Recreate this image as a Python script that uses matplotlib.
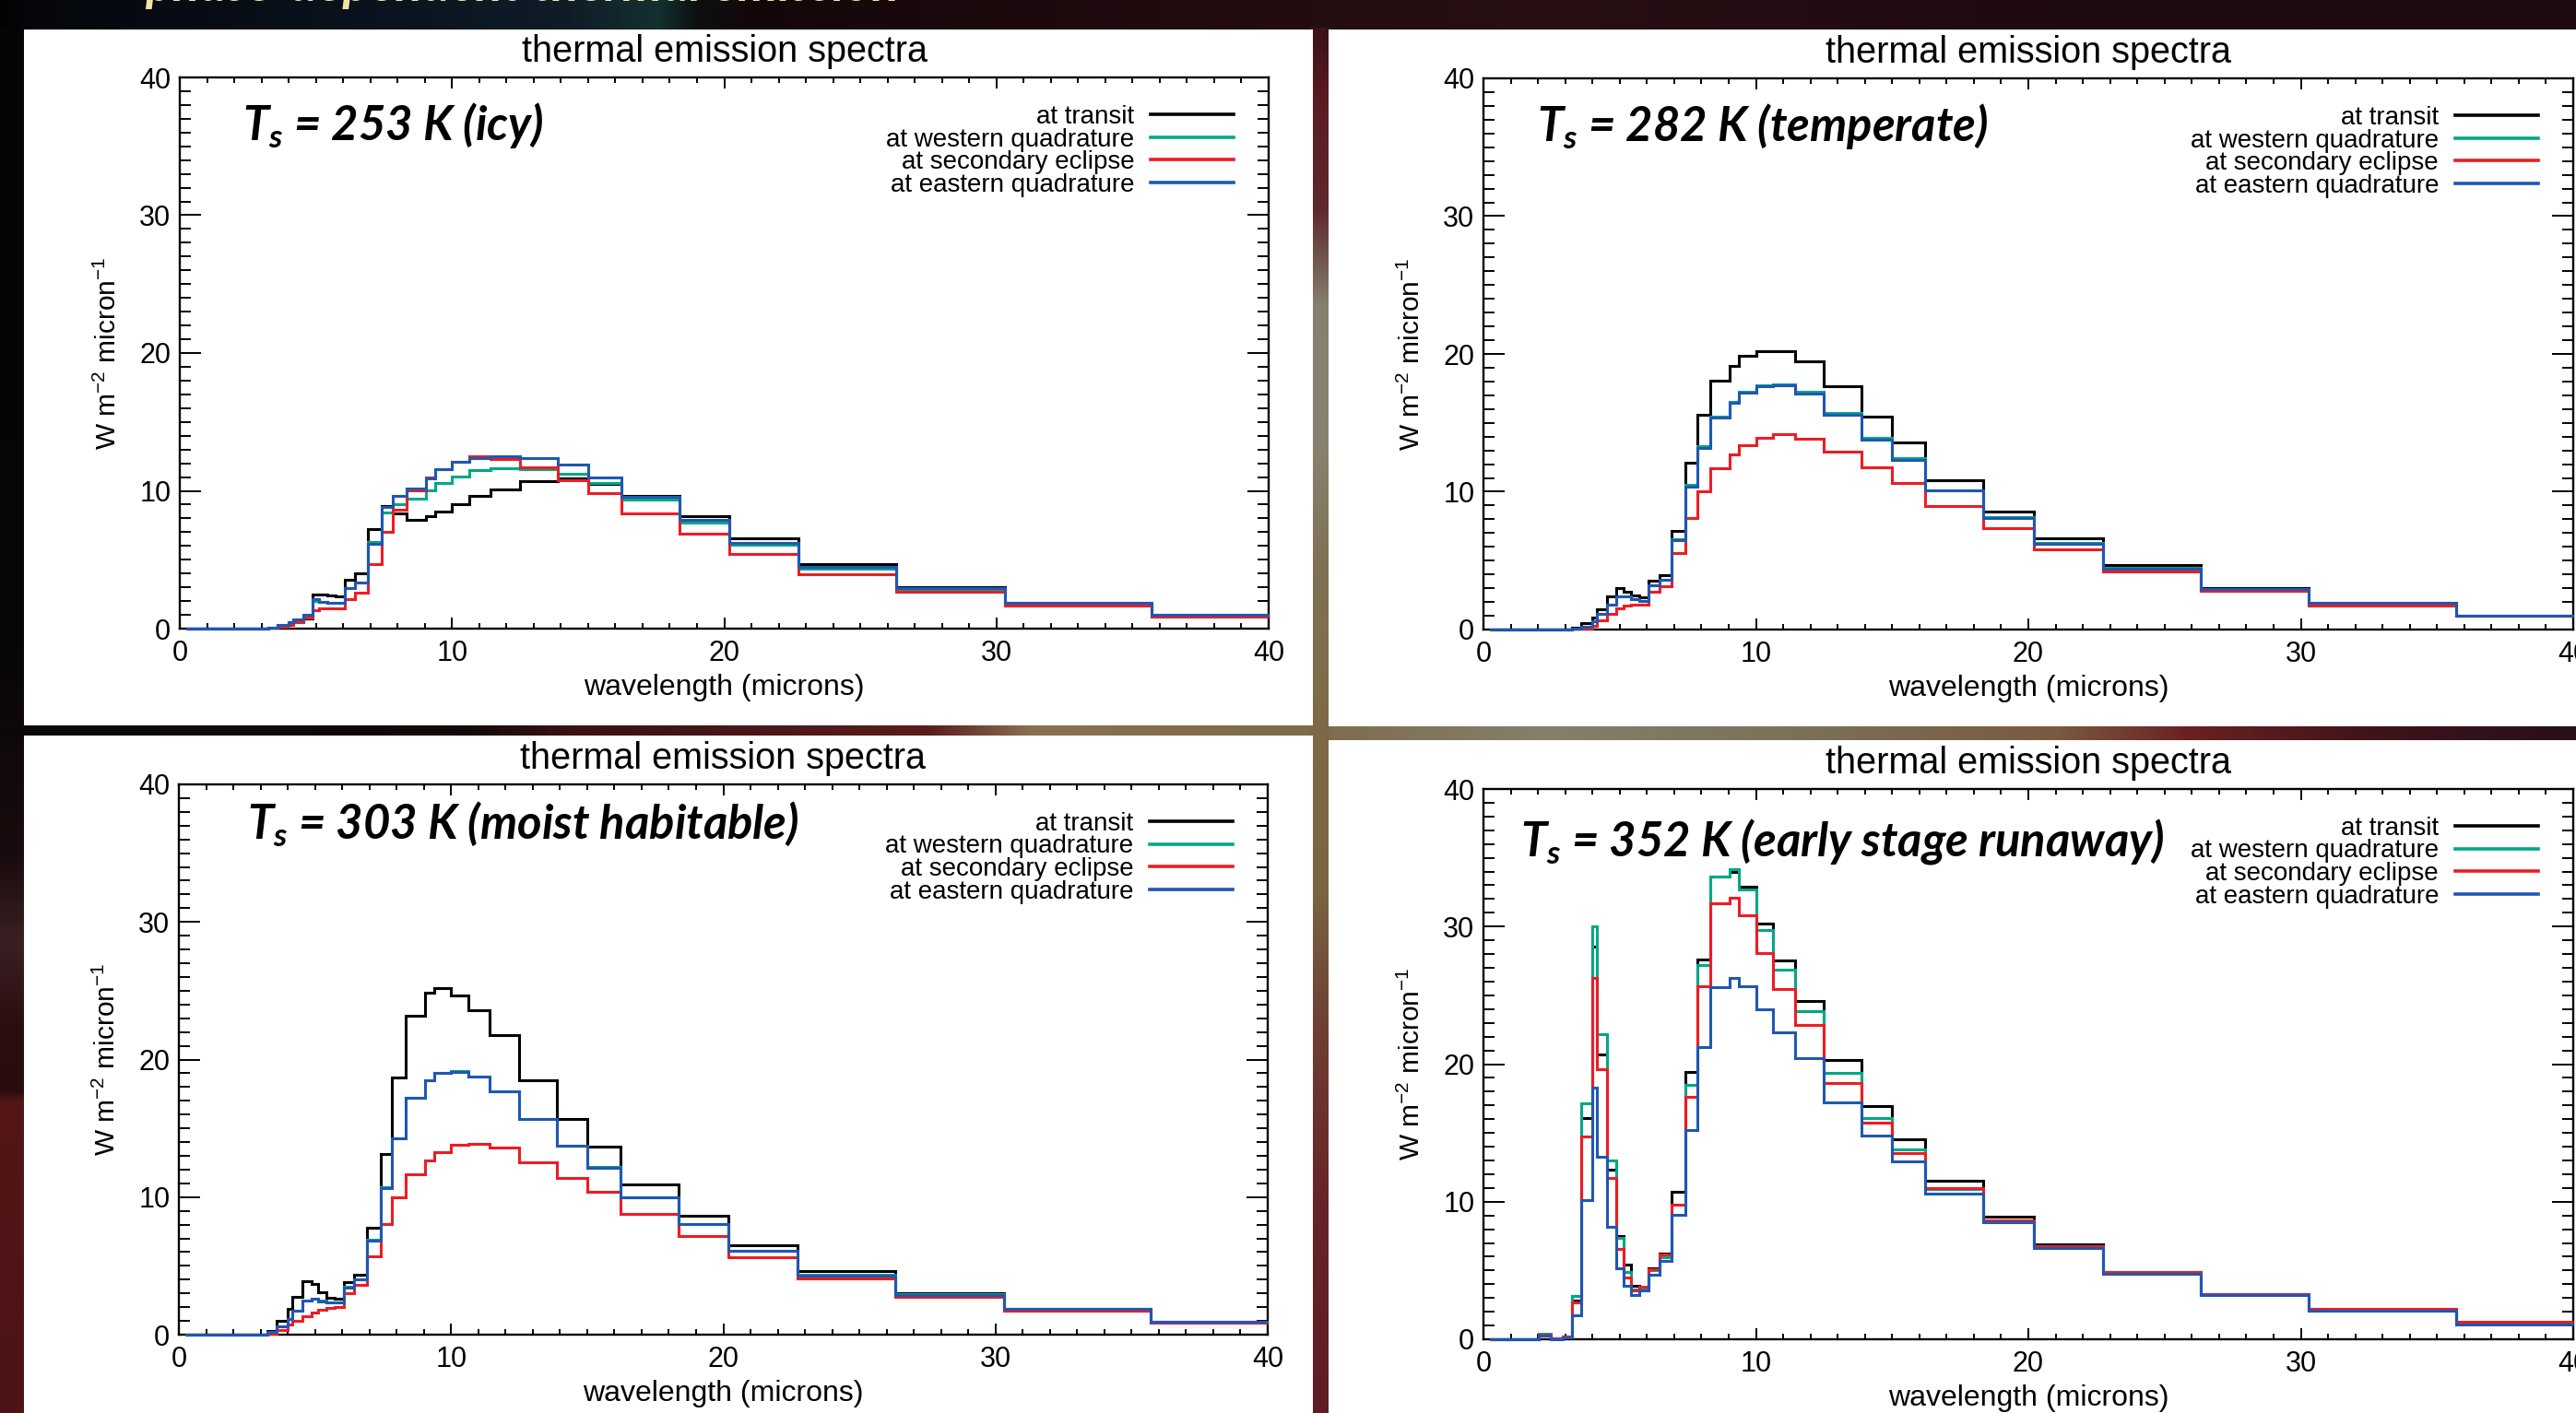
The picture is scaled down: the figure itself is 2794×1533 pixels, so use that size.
import numpy as np
import matplotlib
matplotlib.use("Agg")
import matplotlib.pyplot as plt
from matplotlib.colors import to_rgb
from matplotlib.patches import Rectangle
from matplotlib.ticker import MultipleLocator

# --- canvas ---
W_PX, H_PX = 2794, 1533
DPI = 100

# --- data: spectral band edges (microns) and band-averaged emission (W m-2 micron-1) ---
edges_um = [0.24, 2.02, 2.20, 2.48, 2.66, 2.92, 3.24, 3.58, 4.01, 4.17, 4.55, 4.88,
            5.13, 5.41, 5.71, 6.06, 6.45, 6.90, 7.41, 7.84, 8.33, 9.03, 9.39, 10.0,
            10.64, 11.43, 12.5, 13.89, 14.99, 16.21, 18.35, 20.20, 22.73, 26.32,
            30.30, 35.71, 40.0]

series_labels = ['at transit', 'at western quadrature', 'at secondary eclipse', 'at eastern quadrature']
series_colors = ['#000000', '#00a886', '#ed1c24', '#1f57b3']

# Ts = 253 K (icy)
icy_transit = [0, 0, 0, 0, 0, 0, 0.1, 0.2, 0.4, 0.6, 0.75, 2.5, 2.45, 2.4, 2.32, 3.55, 4.0, 7.23,
               8.9, 8.37, 7.86, 8.19, 8.5, 9.04, 9.6, 10.13, 10.69, 10.92, 10.5, 9.62, 8.15,
               6.55, 4.7, 3.0, 1.9, 1.0]
icy_west = [0, 0, 0, 0, 0, 0, 0.1, 0.25, 0.45, 0.7, 1.0, 2.0, 1.95, 1.9, 1.85, 2.95, 3.35, 6.29,
            8.46, 9.02, 9.42, 10.02, 10.54, 11.05, 11.5, 11.65, 11.6, 11.27, 10.54, 9.35, 7.7,
            6.1, 4.35, 2.9, 1.85, 1.0]
icy_eclipse = [0, 0, 0, 0, 0, 0, 0.05, 0.15, 0.26, 0.5, 0.8, 1.32, 1.5, 1.5, 1.5, 2.16, 2.6, 4.69,
               7.03, 8.64, 10.02, 10.98, 11.54, 12.1, 12.48, 12.32, 11.7, 10.76, 9.82, 8.37, 6.92,
               5.4, 3.95, 2.7, 1.7, 0.9]
icy_east = [0, 0, 0, 0, 0, 0, 0.1, 0.25, 0.45, 0.7, 1.0, 2.15, 1.95, 1.9, 1.85, 2.95, 3.35, 6.18,
            8.86, 9.64, 10.2, 10.9, 11.6, 12.1, 12.39, 12.5, 12.4, 11.88, 10.98, 9.58, 7.86,
            6.2, 4.45, 2.95, 1.9, 1.0]

# Ts = 282 K (temperate)
temp_transit = [0, 0, 0, 0, 0, 0, 0.16, 0.49, 0.87, 1.49, 2.43, 2.99, 2.76, 2.45, 2.34, 3.54, 3.95,
                7.13, 12.08, 15.6, 18.04, 19.15, 19.84, 20.22, 20.18, 19.49, 17.66, 15.43, 13.58,
                10.84, 8.58, 6.59, 4.71, 3.04, 1.95, 1.02]
temp_west = [0, 0, 0, 0, 0, 0, 0.1, 0.2, 0.6, 1.16, 1.83, 2.43, 2.43, 2.21, 2.05, 3.23, 3.61,
             6.58, 10.52, 13.3, 15.47, 16.55, 17.25, 17.72, 17.81, 17.26, 15.72, 13.91, 12.42,
             10.12, 8.14, 6.27, 4.46, 2.95, 1.92, 1.02]
temp_eclipse = [0, 0, 0, 0, 0, 0, 0.05, 0.1, 0.27, 0.67, 1.16, 1.56, 1.76, 1.83, 1.83, 2.76, 3.17,
                5.57, 8.12, 10.03, 11.71, 12.71, 13.38, 13.91, 14.2, 13.87, 12.93, 11.75, 10.63,
                8.96, 7.34, 5.8, 4.2, 2.8, 1.74, 1.0]
temp_east = [0, 0, 0, 0, 0, 0, 0.1, 0.2, 0.6, 1.16, 1.83, 2.43, 2.4, 2.2, 2.05, 3.2, 3.6,
             6.5, 10.34, 13.15, 15.36, 16.48, 17.17, 17.64, 17.72, 17.15, 15.6, 13.8, 12.31,
             10.08, 8.07, 6.25, 4.44, 2.94, 1.92, 1.02]

# Ts = 303 K (moist habitable)
moist_transit = [0, 0, 0, 0, 0, 0, 0.3, 1.0, 1.88, 2.77, 3.89, 3.71, 3.11, 2.71, 2.6, 3.84, 4.34,
                 7.75, 13.16, 18.7, 23.2, 24.84, 25.17, 24.66, 23.59, 21.8, 18.47, 15.68, 13.65,
                 10.92, 8.65, 6.53, 4.65, 3.0, 1.88, 0.96]
moist_west = [0, 0, 0, 0, 0, 0, 0.2, 0.58, 1.16, 1.77, 2.5, 2.64, 2.46, 2.35, 2.35, 3.46, 4.02,
              6.9, 10.7, 14.3, 17.25, 18.5, 19.05, 19.15, 18.76, 17.7, 15.7, 13.74, 12.17,
              10.0, 8.05, 6.12, 4.34, 2.92, 1.86, 0.96]
moist_eclipse = [0, 0, 0, 0, 0, 0, 0.09, 0.32, 0.76, 1.03, 1.32, 1.59, 1.81, 1.92, 2.04, 3.0, 3.6,
                 5.68, 8.07, 9.99, 11.64, 12.64, 13.27, 13.78, 13.9, 13.6, 12.56, 11.42, 10.37,
                 8.8, 7.19, 5.64, 4.06, 2.74, 1.75, 0.9]
moist_east = [0, 0, 0, 0, 0, 0, 0.2, 0.58, 1.16, 1.77, 2.48, 2.62, 2.44, 2.33, 2.33, 3.44, 4.0,
              6.84, 10.66, 14.27, 17.22, 18.47, 19.0, 19.12, 18.74, 17.69, 15.68, 13.72, 12.15,
              9.99, 8.02, 6.1, 4.32, 2.9, 1.86, 0.96]

# Ts = 352 K (early stage runaway)
runaway_transit = [0, 0.36, 0.36, 0.05, 0.05, 0.2, 2.83, 16.05, 28.51, 20.71, 12.36, 7.51, 5.44,
                   3.87, 3.75, 5.14, 6.22, 10.72, 19.4, 27.59, 33.63, 33.98, 32.9, 30.24, 27.52,
                   24.59, 20.32, 16.95, 14.53, 11.55, 8.9, 6.87, 4.89, 3.3, 2.18, 1.22]
runaway_west = [0, 0.4, 0.4, 0.05, 0.05, 0.2, 3.13, 17.14, 30.01, 22.17, 12.98, 7.38, 4.86,
                3.64, 3.75, 5.05, 5.95, 9.75, 18.52, 27.22, 33.63, 34.14, 32.71, 29.76, 26.87,
                23.83, 19.33, 16.1, 13.79, 10.91, 8.6, 6.75, 4.85, 3.28, 2.16, 1.2]
runaway_eclipse = [0, 0.35, 0.35, 0.05, 0.05, 0.2, 2.67, 14.71, 26.25, 19.63, 11.71, 6.59, 4.51,
                   3.52, 3.8, 5.07, 6.18, 9.75, 17.6, 25.67, 31.67, 32.09, 30.8, 28.05, 25.49,
                   22.84, 18.64, 15.75, 13.56, 10.98, 8.67, 6.8, 4.9, 3.31, 2.19, 1.24]
runaway_east = [0, 0.3, 0.3, 0.02, 0.02, 0.15, 1.72, 10.14, 18.29, 13.28, 8.18, 5.14, 3.87,
                3.22, 3.52, 4.72, 5.71, 9.06, 15.22, 21.22, 25.6, 26.25, 25.63, 23.99, 22.33,
                20.41, 17.25, 14.83, 12.94, 10.61, 8.48, 6.6, 4.73, 3.21, 2.06, 1.07]

panel_labels = [r'$T_s$ = 253 K (icy)', r'$T_s$ = 282 K (temperate)',
                r'$T_s$ = 303 K (moist habitable)', r'$T_s$ = 352 K (early stage runaway)']

# --- fonts ---
plt.rcParams['font.family'] = ['Liberation Sans', 'DejaVu Sans']
plt.rcParams['mathtext.fontset'] = 'custom'
plt.rcParams['mathtext.rm'] = 'Liberation Sans'
plt.rcParams['mathtext.it'] = 'Lato:italic:bold'
plt.rcParams['mathtext.bf'] = 'Lato:bold'


def px_rect(left, top, right, bottom):
    """pixel box (y down) -> figure fraction rect"""
    return [left / W_PX, 1 - bottom / H_PX, (right - left) / W_PX, (bottom - top) / H_PX]


def gradient_strip(ax, x0, x1, y0, y1, stops, vertical):
    fr = [s[0] for s in stops]
    cols = np.array([to_rgb(s[1]) for s in stops])
    t = np.linspace(0, 1, 256)
    rgb = np.stack([np.interp(t, fr, cols[:, k]) for k in range(3)], axis=-1)
    img = rgb[:, None, :] if vertical else rgb[None, :, :]
    ax.imshow(img, extent=(x0, x1, y1, y0), aspect='auto', interpolation='bilinear', origin='upper')


fig = plt.figure(figsize=(W_PX / DPI, H_PX / DPI), dpi=DPI)
fig.patch.set_facecolor('#0d0707')

# --- slide background ---
bg = fig.add_axes([0, 0, 1, 1], zorder=-5)
bg.axis('off')
gradient_strip(bg, 0, W_PX, 0, 36, [
    (0, '#030303'), (0.01, '#05070b'), (0.06, '#070b12'), (0.16, '#0b1520'), (0.22, '#0f1d28'),
    (0.255, '#14302f'), (0.27, '#0b1010'), (0.29, '#14070a'), (0.45, '#200b0f'), (0.6, '#281014'),
    (0.8, '#1e0a10'), (1.0, '#1c0a10')], vertical=False)
gradient_strip(bg, 0, 30, 30, H_PX, [
    (0, '#050505'), (0.45, '#080606'), (0.6, '#1a0c0e'), (0.66, '#3a2024'), (0.72, '#2c0e10'),
    (0.77, '#2a0c0e'), (0.775, '#541616'), (1.0, '#4c1416')], vertical=True)
gradient_strip(bg, 0, W_PX, 784, 806, [
    (0, '#0c0808'), (0.18, '#120909'), (0.22, '#3a1214'), (0.36, '#5a1c1c'), (0.40, '#8a7050'),
    (0.5, '#7e6a4a'), (0.6, '#84806a'), (0.7, '#7a7258'), (0.8, '#7a5a40'), (0.85, '#6a2222'),
    (0.92, '#40141a'), (1.0, '#28101a')], vertical=False)
gradient_strip(bg, 1421, 1444, 30, H_PX, [
    (0, '#3a1218'), (0.05, '#5a1c22'), (0.13, '#5e2a2c'), (0.2, '#85806e'), (0.3, '#8a8270'),
    (0.38, '#807256'), (0.5, '#7e6a48'), (0.62, '#7a6644'), (0.72, '#6e4034'), (0.85, '#682428'),
    (1.0, '#5e1e24')], vertical=True)

# white plot panels
for (l, t, r, b) in [(26, 32, 1424, 787), (1441, 32, 2794, 788), (26, 798, 1424, 1533), (1441, 803, 2794, 1533)]:
    bg.add_patch(Rectangle((l, t), r - l, b - t, facecolor='white', edgecolor='none'))
bg.set_xlim(0, W_PX)
bg.set_ylim(H_PX, 0)

# cut-off slide heading at the very top (only its lowest slivers show)
fig.text(157 / W_PX, 1 - 1 / H_PX, 'phase-dependent thermal emission', color='#f3e3a8',
         fontsize=40, fontfamily='Lato', fontweight='bold', fontstyle='italic', va='baseline')

panels = [
    dict(rect=(195, 84, 1376, 682), series=[icy_transit, icy_west, icy_eclipse, icy_east],
         label=panel_labels[0], label_xy=(0.058, 0.886)),
    dict(rect=(1609, 85, 2791, 683), series=[temp_transit, temp_west, temp_eclipse, temp_east],
         label=panel_labels[1], label_xy=(0.049, 0.886)),
    dict(rect=(194, 851, 1375, 1448), series=[moist_transit, moist_west, moist_eclipse, moist_east],
         label=panel_labels[2], label_xy=(0.063, 0.901)),
    dict(rect=(1609, 856, 2791, 1453), series=[runaway_transit, runaway_west, runaway_eclipse, runaway_east],
         label=panel_labels[3], label_xy=(0.034, 0.879)),
]

for p in panels:
    ax = fig.add_axes(px_rect(*p['rect']))
    ax.set_facecolor('white')
    for vals, col, name in zip(p['series'], series_colors, series_labels):
        ax.stairs(vals, edges_um, baseline=None, color=col, linewidth=2.2,
                  joinstyle='miter', label=name, zorder=3, clip_on=False)
    ax.set_xlim(0, 40)
    ax.set_ylim(0, 40)

    ax.xaxis.set_major_locator(MultipleLocator(10))
    ax.xaxis.set_minor_locator(MultipleLocator(1))
    ax.yaxis.set_major_locator(MultipleLocator(10))
    ax.yaxis.set_minor_locator(MultipleLocator(1))
    ax.tick_params(which='both', direction='in', top=True, right=True, width=1.4,
                   labelsize=22, colors='black')
    ax.tick_params(axis='x', which='major', length=8.6, pad=8.5)
    ax.tick_params(axis='x', which='minor', length=4.3)
    ax.tick_params(axis='y', which='major', length=16.5, pad=7)
    ax.tick_params(axis='y', which='minor', length=8.6)
    for sp in ax.spines.values():
        sp.set_linewidth(1.7)

    ax.set_title('thermal emission spectra', fontsize=28.5, pad=12)
    ax.set_xlabel('wavelength (microns)', fontsize=23)
    ax.xaxis.set_label_coords(0.5, -0.082)
    ax.set_ylabel(r'W m$^{-2}$ micron$^{-1}$', fontsize=21.5)
    ax.yaxis.set_label_coords(-0.053, 0.5)

    ax.text(p['label_xy'][0], p['label_xy'][1], p['label'], transform=ax.transAxes,
            fontfamily='Lato', fontweight='bold', fontstyle='italic', fontsize=36.5, va='baseline')

    leg = ax.legend(loc='upper right', bbox_to_anchor=(0.968, 0.950), frameon=False,
                    markerfirst=False, fontsize=20, handlelength=3.24, handletextpad=0.65,
                    labelspacing=-0.05, borderpad=0, borderaxespad=0)
    for h in leg.legend_handles:
        h.set_linewidth(2.6)

fig.savefig('out.png', dpi=DPI, facecolor=fig.get_facecolor())
